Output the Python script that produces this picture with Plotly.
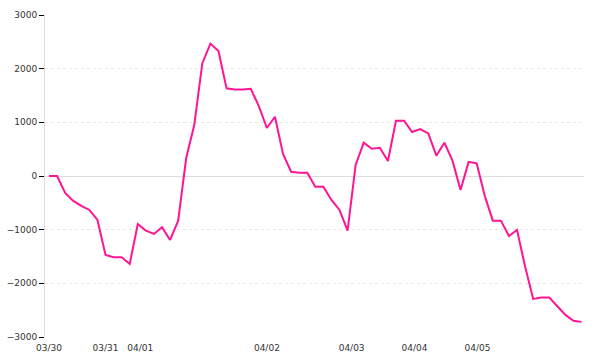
import plotly.graph_objects as go

# point index (evenly spaced samples)
values = [0, 0, -316, -465, -558, -633, -819, -1471, -1513, -1513,
          -1638, -894, -1018, -1080, -955, -1191, -838, 335, 949, 2103,
          2467, 2327, 1633, 1614, 1614, 1625, 1303, 894, 1104, 410,
          80, 61, 61, -199, -199, -447, -633, -1018, 205, 620,
          508, 527, 279, 1029, 1029, 819, 875, 795, 378, 620,
          285, -261, 261, 236, -370, -832, -832, -1117, -1005, -1688,
          -2290, -2265, -2265, -2433, -2588, -2699, -2718]
index = list(range(len(values)))

tick_positions = [0, 7, 11.3, 27, 37.5, 45.3, 53.1]
tick_labels = ["03/30", "03/31", "04/01", "04/02", "04/03", "04/04", "04/05"]

y_ticks = [-3000, -2000, -1000, 0, 1000, 2000, 3000]

fig = go.Figure()
fig.add_trace(go.Scatter(
    x=index, y=values, mode="lines",
    line=dict(color="#ff1493", width=2),
    hoverinfo="skip", showlegend=False,
))

font = dict(family="DejaVu Sans", size=9, color="#333333")

fig.update_layout(
    width=600, height=360,
    margin=dict(l=45, r=16, t=15, b=23, pad=0),
    paper_bgcolor="white", plot_bgcolor="white",
    font=font,
    xaxis=dict(
        range=[-0.5, 66.3], automargin=False,
        tickmode="array", tickvals=tick_positions, ticktext=tick_labels,
        showgrid=False, zeroline=False, showline=False,
        ticks="", tickfont=font, ticklabelstandoff=4,
    ),
    yaxis=dict(
        range=[-3000, 3000], automargin=False,
        tickmode="array", tickvals=y_ticks,
        showgrid=True, gridcolor="#e6e6e6", griddash="dot", gridwidth=1,
        zeroline=True, zerolinecolor="#dddddd", zerolinewidth=1,
        showline=True, linecolor="#dddddd", linewidth=1,
        ticks="outside", ticklen=5, tickcolor="#000000", tickwidth=1,
        tickfont=font,
    ),
)

fig.write_html("out.html")
